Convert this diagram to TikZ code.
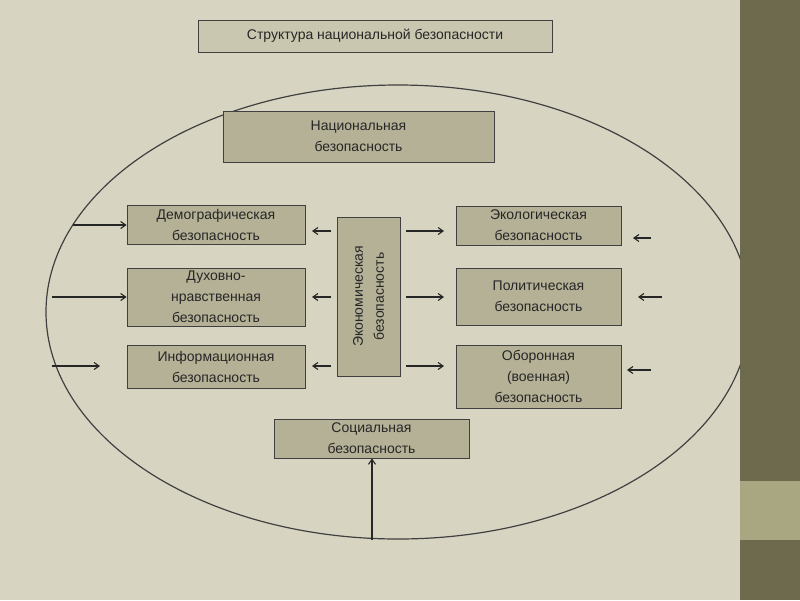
\documentclass[tikz,border=0pt]{standalone}
\usepackage{fontspec}
\setmainfont{Liberation Sans}
\usetikzlibrary{arrows.meta}
\definecolor{bg}{HTML}{D7D5C1}
\definecolor{boxf}{HTML}{B5B196}
\definecolor{strip}{HTML}{6E6A4E}
\definecolor{strip2}{HTML}{A9A682}
\definecolor{txt}{HTML}{262626}
\tikzset{
  blk/.style={draw=black!75,line width=0.8pt,fill=boxf,text=txt,align=center,font=\fontsize{14}{21}\selectfont,inner sep=0pt},
  arr/.style={-{Straight Barb[length=5pt,width=7pt]},line width=1.1pt,black!85}
}
\begin{document}
\begin{tikzpicture}[x=1pt,y=-1pt]
\fill[bg] (0,0) rectangle (800,600);
\fill[strip] (740,0) rectangle (800,600);
\fill[strip2] (740,481) rectangle (800,540);
\useasboundingbox (0,0) rectangle (800,600);
\begin{scope}
\clip (0,0) rectangle (740,600);
\draw[black!75,line width=1.2pt] (398,312) ellipse [x radius=352, y radius=227];
\end{scope}
\node[blk,fill=bg!60!boxf,minimum width=354,minimum height=32] (t) at (375,36) {Структура национальной безопасности};
\node[blk,minimum width=271,minimum height=51] (n) at (358.5,136.5) {Национальная\\безопасность};
\node[blk,minimum width=178,minimum height=39] (d) at (216,224.5) {Демографическая\\безопасность};
\node[blk,minimum width=178,minimum height=58] (s) at (216,297) {Духовно-\\нравственная\\безопасность};
\node[blk,minimum width=178,minimum height=43] (i) at (216,366.5) {Информационная\\безопасность};
\node[blk,minimum width=63,minimum height=159] (e) at (368.5,296.5) {};
\node[rotate=90,align=center,font=\fontsize{14}{21}\selectfont,text=txt] at (e) {Экономическая\\безопасность};
\node[blk,minimum width=165,minimum height=39] (ec) at (538.5,225.5) {Экологическая\\безопасность};
\node[blk,minimum width=165,minimum height=57] (p) at (538.5,296.5) {Политическая\\безопасность};
\node[blk,minimum width=165,minimum height=63] (o) at (538.5,376.5) {Оборонная\\(военная)\\безопасность};
\node[blk,minimum width=195,minimum height=39] (so) at (371.5,438.5) {Социальная\\безопасность};
\coordinate (l1) at (73,225); \coordinate (l2) at (52,297); \coordinate (l3) at (52,366); \coordinate (l3e) at (100,366);
\draw[arr] (l1) -- (d.west|-l1);
\draw[arr] (l2) -- (s.west|-l2);
\draw[arr] (l3) -- (l3e);
\foreach \y in {231,297,366}{
  \draw[arr] (331,\y) -- (312,\y);
  \draw[arr] (406,\y) -- (444,\y);
}
\draw[arr] (651,238) -- (633,238);
\draw[arr] (662,297) -- (638,297);
\draw[arr] (651,370) -- (627,370);
\coordinate (b) at (372,540);
\draw[arr] (b) -- (b|-so.south);
\end{tikzpicture}
\end{document}
